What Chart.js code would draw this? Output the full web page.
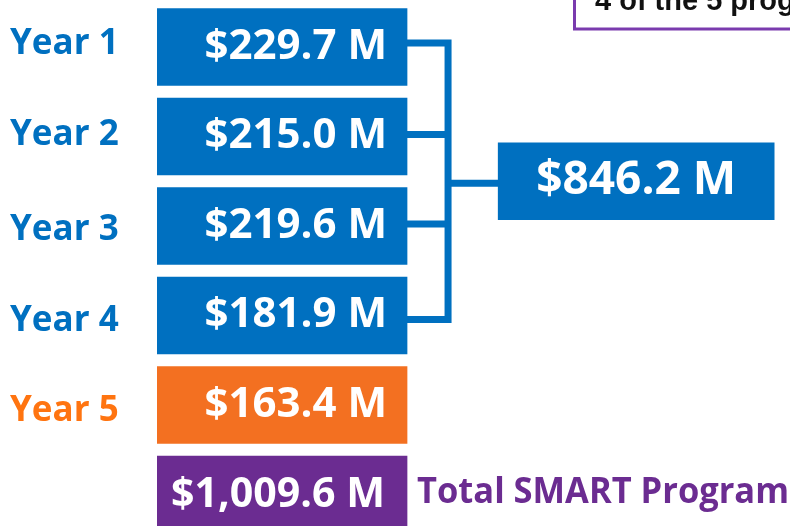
<!DOCTYPE html>
<html><head><meta charset="utf-8">
<script src="https://cdn.jsdelivr.net/npm/chart.js@4"></script>
<style>html,body{margin:0;padding:0;background:#fff;overflow:hidden}#wrap{width:790px;height:526px}</style>
</head><body><div id="wrap"><canvas id="c" width="790" height="526"></canvas></div>
<script>
// ---- data ----
const categories = ['Year 1', 'Year 2', 'Year 3', 'Year 4', 'Year 5', 'Total SMART Program'];
const values = [229.7, 215.0, 219.6, 181.9, 163.4, 1009.6];   // $ millions
const subtotalRows = [0, 1, 2, 3];                             // years grouped by the bracket
const subtotalValue = 846.2;                                   // $ millions (Years 1–4)
const noteText = '4 of the 5 programs';

// ---- styles / layout (not data) ----
const BLUE = '#0070C0', ORANGE = '#F37021', PURPLE = '#6B2C91', NOTE_PURPLE = '#7A3BAE';
const rowColors = [BLUE, BLUE, BLUE, BLUE, ORANGE, PURPLE];
const labelColors = [BLUE, BLUE, BLUE, BLUE, '#FF7410'];
const labelNudge = [-3, -1, 4, 6, 6];   // small vertical text nudges (px)
const FONT = '"Open Sans", Lato, sans-serif';
const COL_MAIN = [0, 0.395];       // x-scale units (column extents)
const COL_SUB = [0.539, 0.975];

const fmt = v => '$' + v.toLocaleString('en-US', {minimumFractionDigits: 1, maximumFractionDigits: 1}) + ' M';

const mainData = values.map((v, i) => ({x: COL_MAIN.slice(), y: i}));
const subData = [{x: COL_SUB.slice(), y: (subtotalRows[0] + subtotalRows[subtotalRows.length - 1]) / 2}];

const connectorPlugin = {
  id: 'connector',
  beforeDatasetsDraw(chart) {
    const {ctx} = chart;
    const main = chart.getDatasetMeta(0).data;
    const sub = chart.getDatasetMeta(1).data[0];
    const xr = main[0].x;
    const xl = sub.base;
    const bx = xr + (xl - xr) * 0.45;
    const ys = subtotalRows.map(i => main[i].y);
    const lw = 7;
    ctx.save();
    ctx.strokeStyle = BLUE;
    ctx.lineWidth = lw;
    ctx.lineCap = 'butt';
    ctx.beginPath();
    ys.forEach((y, k) => {
      const yy = k === 0 ? y - 4 : (k === ys.length - 1 ? y + 4 : y - 2);
      ctx.moveTo(xr - 2, yy); ctx.lineTo(bx, yy);
    });
    ctx.moveTo(bx, ys[0] - 4 - lw / 2); ctx.lineTo(bx, ys[ys.length - 1] + 4 + lw / 2);
    ctx.moveTo(bx, sub.y + 2); ctx.lineTo(xl + 2, sub.y + 2);
    ctx.stroke();
    ctx.restore();
  }
};

const labelPlugin = {
  id: 'labels',
  afterDatasetsDraw(chart) {
    const {ctx} = chart;
    const yScale = chart.scales.y;
    const main = chart.getDatasetMeta(0).data;
    const sub = chart.getDatasetMeta(1).data[0];
    ctx.save();
    // row (year) labels on the left, positioned by the y scale
    ctx.textBaseline = 'middle';
    ctx.textAlign = 'left';
    ctx.font = `bold 35px ${FONT}`;
    categories.slice(0, 5).forEach((c, i) => {
      ctx.fillStyle = labelColors[i];
      ctx.fillText(c, 10, yScale.getPixelForValue(i) + labelNudge[i]);
    });
    // values inside the boxes
    ctx.fillStyle = '#fff';
    ctx.font = `bold 42px ${FONT}`;
    ctx.textAlign = 'right';
    main.forEach((bar, i) => {
      const t = fmt(values[i]);
      if (i === 5) {
        ctx.fillText(t, bar.x - 22, bar.y + 1, 214);
      } else {
        ctx.fillText(t, bar.x - 20, bar.y);
      }
    });
    ctx.textAlign = 'center';
    ctx.font = `bold 46px ${FONT}`;
    ctx.fillText(fmt(subtotalValue), (sub.x + sub.base) / 2, sub.y);
    // total label to the right of the total box
    const tb = main[5];
    ctx.textAlign = 'left';
    ctx.fillStyle = PURPLE;
    ctx.font = `bold 35px ${FONT}`;
    ctx.fillText(categories[5], tb.x + 10, tb.y - 1, 372);
    // note box at top right
    ctx.strokeStyle = NOTE_PURPLE;
    ctx.lineWidth = 3;
    ctx.strokeRect(574.5, -40, 260, 69);
    ctx.fillStyle = '#111';
    ctx.textBaseline = 'alphabetic';
    ctx.font = 'bold 29px "Liberation Sans", Arial, sans-serif';
    ctx.fillText(noteText, 595, 10);
    ctx.restore();
  }
};

new Chart(document.getElementById('c'), {
  type: 'bar',
  data: {
    datasets: [
      {label: 'Annual', data: mainData, backgroundColor: rowColors, barThickness: 77, grouped: false, borderWidth: 0},
      {label: 'Years 1–4', data: subData, backgroundColor: BLUE, barThickness: 77, grouped: false, borderWidth: 0}
    ]
  },
  options: {
    indexAxis: 'y',
    responsive: false,
    animation: false,
    events: [],
    layout: {padding: {left: 157, top: 0, right: 0, bottom: 0}, autoPadding: false},
    plugins: {legend: {display: false}, tooltip: {enabled: false}},
    scales: {
      x: {type: 'linear', display: false, min: 0, max: 1, offset: false},
      y: {type: 'linear', display: false, reverse: true, min: -0.525, max: 5.352, offset: false, grid: {offset: false}}
    }
  },
  plugins: [connectorPlugin, labelPlugin]
});
</script></body></html>
